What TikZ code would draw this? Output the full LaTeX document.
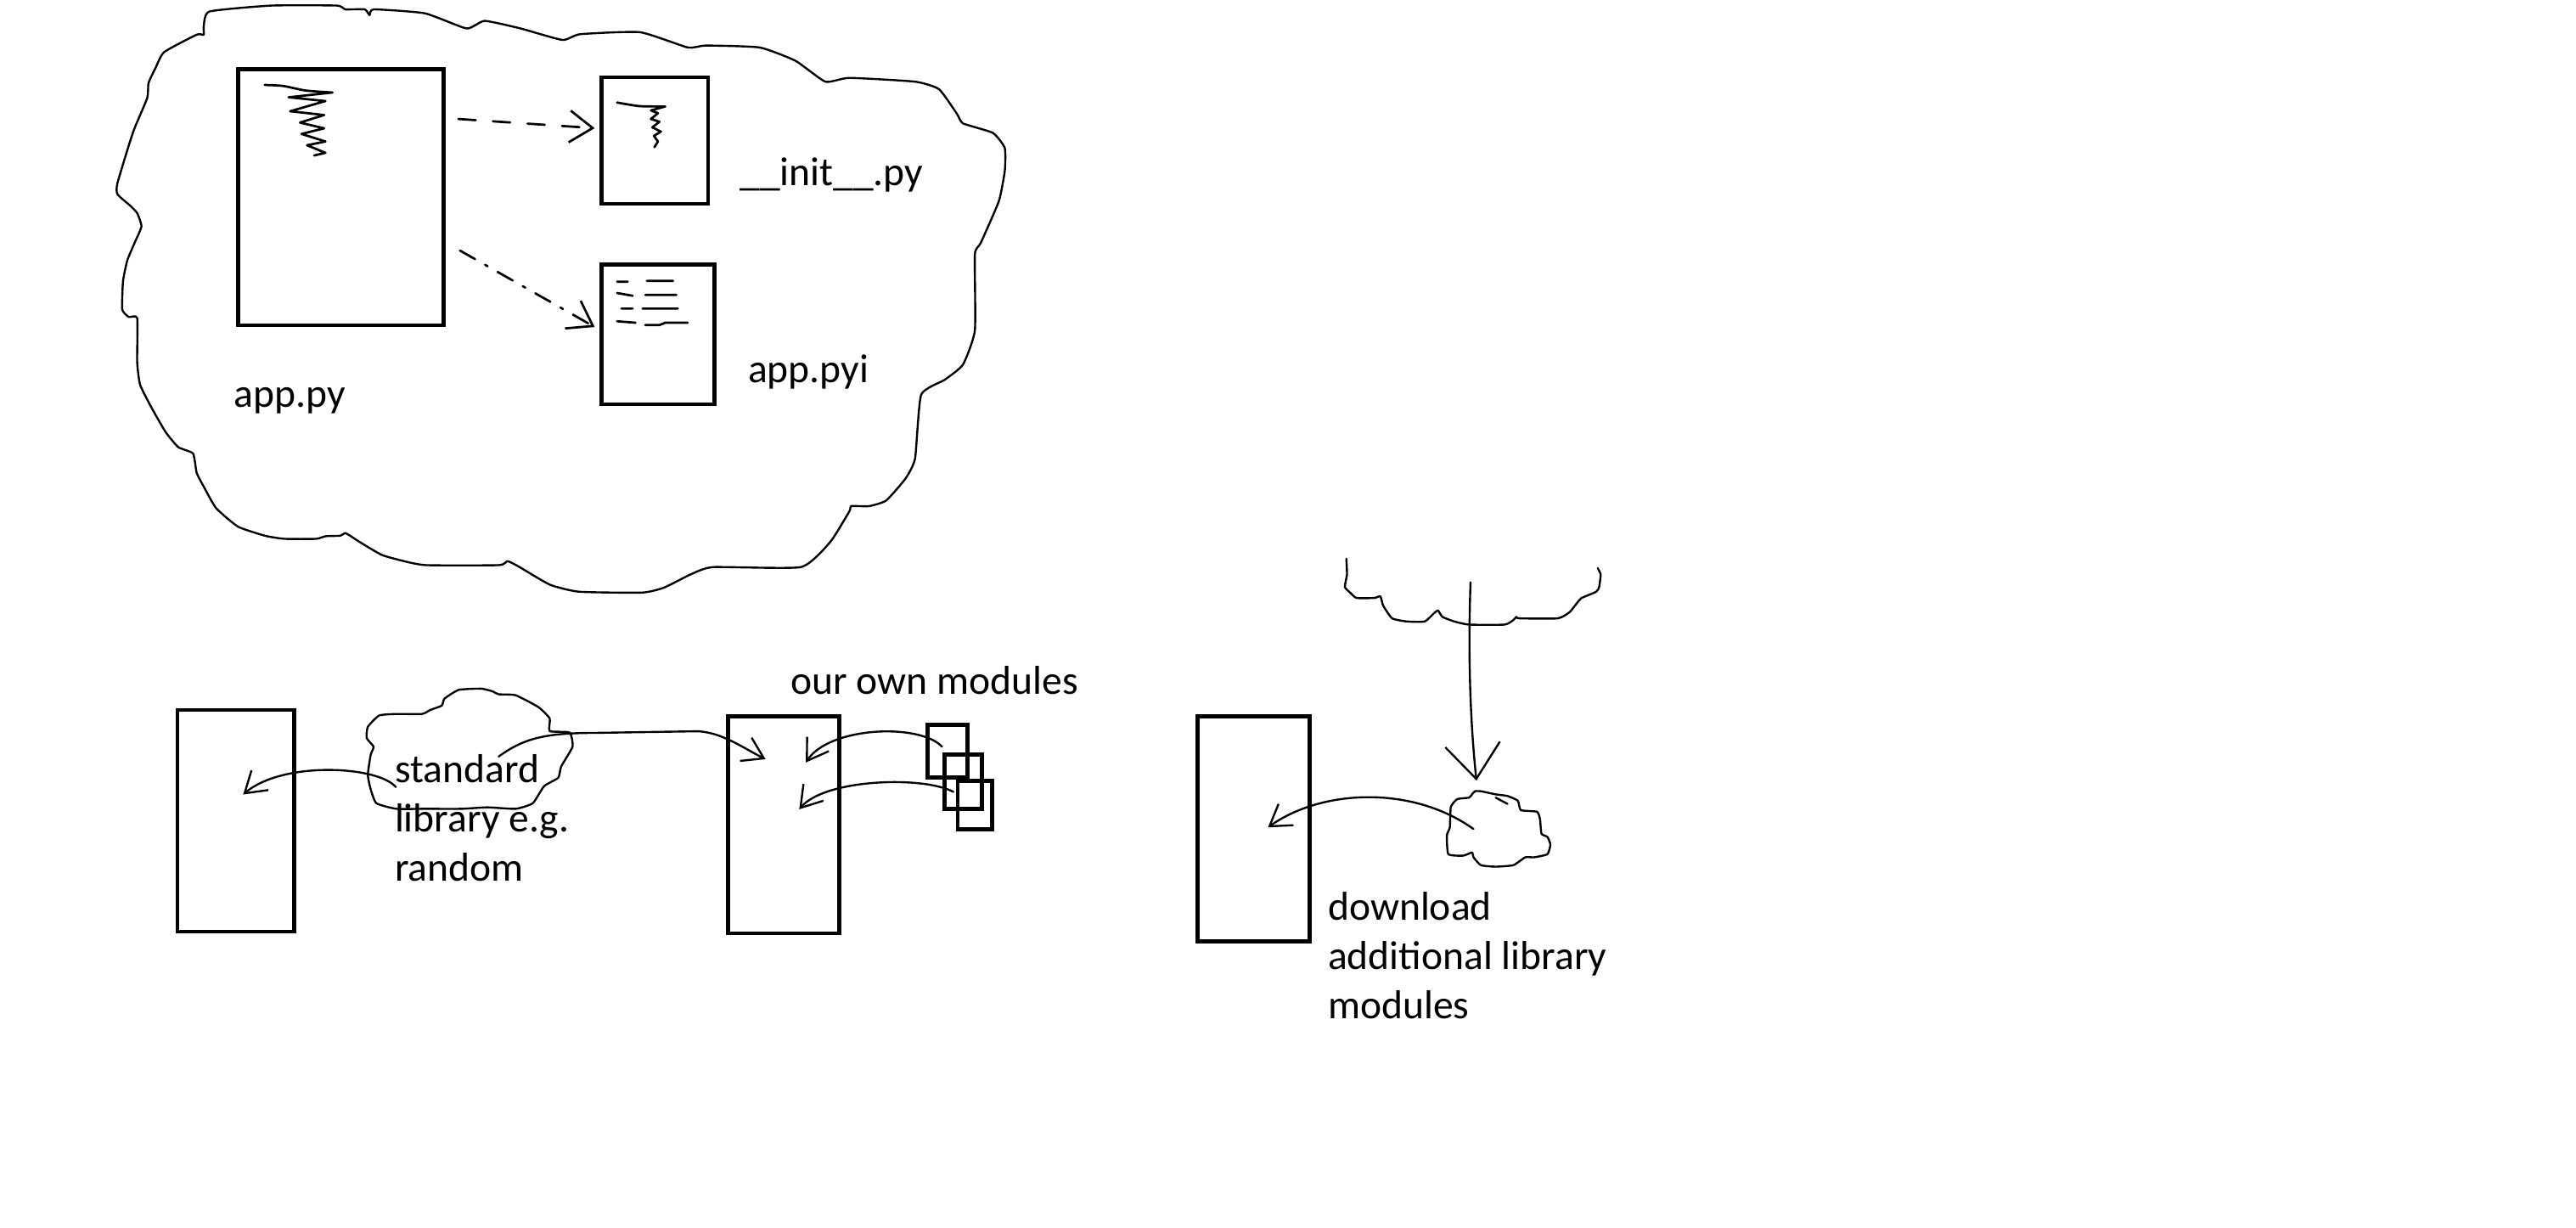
\documentclass[tikz,border=0pt]{standalone}
\usepackage{fontspec}
\setmainfont{Carlito}
\usetikzlibrary{arrows.meta}
\begin{document}
\begin{tikzpicture}[x=0.02cm,y=-0.02cm,
  box/.style={draw,line width=1.4pt,inner sep=0pt,outer sep=0pt},
  outline/.style={line width=0.7pt,line join=round,line cap=round},
  scrib/.style={line width=0.8pt,line cap=round,line join=round},
  conn/.style={line width=0.7pt,line cap=round,-{Straight Barb[length=7pt,width=9pt]}},
  dconn/.style={line width=0.8pt,line cap=round,-{Straight Barb[length=8pt,width=11pt]}},
  lbl/.style={anchor=base west,inner sep=0pt,font=\fontsize{14}{17}\selectfont}]
\useasboundingbox (0,0) rectangle (1568,747);

% ---------- big cloud ----------
\draw[outline] plot[smooth cycle,tension=0.3] coordinates {
(127.5,7) (165,3.4) (205,3.4) (210,5.7) (222,5.7) (225,9.2) (227.5,5.7) (258.6,8.1)
(284,17.3) (295,12.7) (316.8,17.3) (342.3,24.3) (353.2,20.8) (389.6,19.6) (418.7,28.9)
(429.6,27.7) (462.4,28.9) (484.2,37) (502.4,49.7) (517,47.4) (557,49.7) (571.6,54.3)
(582.5,69.3) (586.2,75.1) (604.4,80.9) (611.6,90.1) (611.6,104) (608,122.4) (597,147.8)
(593.4,154.8) (593.4,201) (586.2,221.8) (575.2,231) (560.7,240.2) (557,279) (551.2,291.2)
(539.4,304.6) (529,308) (518,308) (517.1,311) (505.3,329.9) (487.5,345.1) (434.1,345.1)
(420.7,349.4) (404.4,357.5) (391.1,360.6) (352.5,360.1) (334.7,355.8) (315.4,344.6)
(308.9,341.5) (303.6,343.9) (259.1,343.9) (244.3,341.1) (232.4,337.7) (220.5,330.8)
(214.6,327) (210.2,324.4) (207.2,326) (198.3,326.3) (192.4,327.9) (173.1,327.9)
(161.2,326) (144.9,320.5) (131.6,309.3) (124.1,296.3) (119.7,287.7) (117.5,276)
(108.5,272.1) (100.8,262.9) (92.2,248) (85.3,234.2) (83.5,220.4) (83.5,193.6)
(78.4,192.9) (74.4,188.3) (74.9,171) (77.5,158.4) (81.8,148.1) (86.1,137.8) (83.5,129.7)
(79.2,125.1) (71.5,118.2) (71.5,111.4) (81,80.4) (89.6,59.7) (90.4,50.5) (94.7,41.3)
(99.9,31.7) (119.7,21.1) (124,21.1) (124,16.1)};

% ---------- top files ----------
\node[box,minimum width=2.5cm,minimum height=3.12cm] (app) at (207.5,120) {};
\node[box,minimum width=1.3cm,minimum height=1.54cm] (init) at (398.5,85.5) {};
\node[box,minimum width=1.38cm,minimum height=1.7cm] (pyi) at (400.5,203.5) {};

% scribbles inside the files
\draw[scrib] plot[smooth,tension=0.4] coordinates {(161.1,51.7) (172.3,52.3) (186.1,55.1) (202.4,56.3)}
  -- (175.7,59.2) -- (198.1,61.5) -- (176.6,67.7) -- (197.3,70) -- (182.6,74.6) -- (197.3,78.1)
  -- (183.5,81.5) -- (198.1,86.1) -- (186.9,88.4) -- (198.1,93) -- (191.2,94.6);
\draw[scrib] plot[smooth,tension=0.4] coordinates {(375.6,62.4) (389.4,64.6) (404.9,64.8)}
  -- (396.2,67.2) -- (400.5,68.9) -- (396.2,72.4) -- (401.4,74.1) -- (397.1,77.5)
  -- (402.3,80.1) -- (398,82.7) -- (400.5,86.1) -- (398.3,89.6);
\draw[scrib] (375.6,171.4) -- (382.1,171.4) (393.7,170.9) -- (409.7,170.9)
  (375.6,178.3) -- (385.1,180) (392.8,179.5) -- (411.7,179.5)
  (378.2,187.8) -- (385.1,187.8) (391.1,187.8) -- (412.6,187.8)
  (375.6,195.5) -- (386.8,196.4) (392.8,197.8) -- (401.4,197.8) -- (404.9,196.4) -- (418.6,196.4);

% dashed connectors
\coordinate (d1s) at (279,72.4);
\coordinate (d1e) at (362,78);
\coordinate (d2s) at (280,152.5);
\coordinate (d2e) at (362,199);
\draw[dconn,dash pattern=on 6pt off 6pt] (d1s) -- (d1e);
\draw[dconn,dash pattern=on 6pt off 4pt on 1pt off 4pt] (d2s) -- (d2e);

% labels
\node[lbl] (lapp) at (142,248) {app.py};
\node[lbl] (linit) at (450,113) {\_\_init\_\_.py};
\node[lbl] (lpyi) at (455,233) {app.pyi};

% ---------- bottom left: standard library ----------
\node[box,minimum width=1.42cm,minimum height=2.7cm] (progA) at (143.5,499.5) {};
\draw[outline] plot[smooth cycle,tension=0.3] coordinates {
(230.8,435.4) (241.2,434.5) (256.8,434.5) (262,432) (268.9,429.4) (270.6,425.1)
(279.3,419.8) (293.1,419.1) (300,420.8) (303.5,422.5) (313.9,423.1) (327.7,430.3)
(334.6,437.2) (334.6,444.9) (346.7,445.8) (348.5,454.4) (341.6,466.4) (339.8,473.3)
(331.2,478.4) (324.3,488.8) (313.9,492.2) (296.6,491.3) (281,492.2) (258.5,492.2)
(241.2,492.2) (229.1,488.8) (225.6,480.2) (223.9,471.6) (225.6,459.5) (227.4,454.4)
(223.2,449.2) (223.9,442.3)};
\node[lbl] (ls1) at (240,476) {standard};
\node[lbl] (ls2) at (240,506) {library e.g.};
\node[lbl] (ls3) at (240,536) {random};

\coordinate (c1s) at (241,479);
\coordinate (c1e) at (148,483.5);
\draw[conn] (c1s) .. controls (230,466) and (172,463) .. (c1e);

% ---------- bottom middle: own modules ----------
\node[box,minimum width=1.36cm,minimum height=2.64cm] (progB) at (477,502) {};
\node[box,minimum width=0.486cm,minimum height=0.64cm] (sq1) at (576.9,457) {};
\node[box,minimum width=0.45cm,minimum height=0.66cm] (sq2) at (586.3,475.6) {};
\node[box,minimum width=0.42cm,minimum height=0.59cm] (sq3) at (593.5,489.8) {};
\node[lbl] (lown) at (481,422.5) {our own modules};

\coordinate (c2s) at (303.5,460.4);
\coordinate (c2e) at (466,462);
\draw[conn] (c2s) .. controls (318,450) and (330,446) .. (362,446) -- (425,445)
  .. controls (440,446) and (452,455) .. (c2e);

\coordinate (c3s) at (573.4,454.4);
\coordinate (c3e) at (490.5,464);
\draw[conn] (c3s) .. controls (560,440) and (505,442) .. (c3e);
\coordinate (c4s) at (580.3,481.9);
\coordinate (c4e) at (486.5,492.5);
\draw[conn] (c4s) .. controls (562,472) and (502,474) .. (c4e);

% ---------- right: download ----------
\node[box,minimum width=1.36cm,minimum height=2.74cm] (progC) at (763,504.5) {};
\draw[outline] plot[smooth,tension=0.3] coordinates {
(819.5,340) (819.9,349.6) (818.6,357.2) (822.2,361) (825.8,363.9) (836.6,363.9)
(840.2,362.9) (842,368.7) (847.4,376.3) (856.4,378.2) (867.2,378.2) (872.6,373.4)
(875.3,371.5) (878,375.4) (885.2,378.2) (894.2,380.1) (915.8,380.1) (921.2,377.3)
(923,375.4) (924.8,376.3) (948.2,376.3) (955.4,372.5) (960.8,365.8) (962.6,363.9)
(971.6,360.1) (973.4,357.2) (974.3,349.6) (972.5,345.7)};
\draw[outline] plot[smooth cycle,tension=0.3] coordinates {
(897.8,481.5) (901.4,481.5) (910.4,483.4) (917.6,484.4) (923.9,487.3) (925.7,493)
(935.6,494) (937.4,498.7) (938.3,507.4) (941.9,509.3) (943.7,514) (941.9,519.8)
(933.8,521.7) (928.4,521.7) (921.2,526.5) (910.4,527.4) (901.4,526.5) (896.9,521.7)
(896,518.8) (890.6,520.7) (881.6,519.8) (880.7,508.3) (882.5,503.5) (883.1,491.1)
(887,486.3) (894.2,485.4) (896,483.4)};
\draw[outline] (910.4,485.4) -- (917.6,489.2);

\coordinate (v1s) at (895.1,354.3);
\coordinate (v1e) at (898.7,475);
\draw[line width=0.7pt,line cap=round,-{Straight Barb[length=12pt,width=19pt]}]
  (v1s) .. controls (893.5,400) and (895,440) .. (v1e);

\coordinate (c5s) at (896.9,504.5);
\coordinate (c5e) at (771.8,503.5);
\draw[conn] (c5s) .. controls (860,478) and (805,480) .. (c5e);

\node[lbl] (ld1) at (808,560) {download};
\node[lbl] (ld2) at (808,590) {additional library};
\node[lbl] (ld3) at (808,620) {modules};
\end{tikzpicture}
\end{document}
